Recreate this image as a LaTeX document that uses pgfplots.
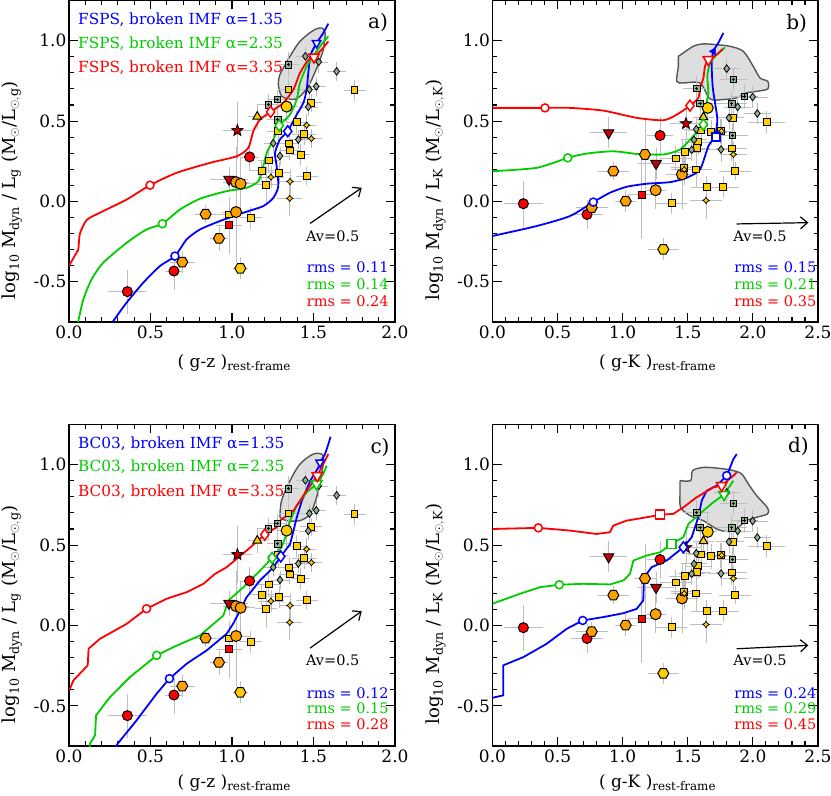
\documentclass[border=0pt]{standalone}
\usepackage{fontspec}
\setmainfont{DejaVu Serif}
\usepackage{pgfplots}
\pgfplotsset{compat=1.18}
\usepackage{pgfplotstable}
\usetikzlibrary{arrows.meta}

\definecolor{ebgray}{RGB}{190,190,190}
\definecolor{myorange}{RGB}{255,160,0}
\definecolor{mygold}{RGB}{255,205,0}
\definecolor{mygreen}{RGB}{0,205,0}
\definecolor{graygreen}{RGB}{143,175,143}
\definecolor{regfill}{RGB}{222,222,222}
\definecolor{regedge}{RGB}{85,85,85}
\definecolor{darkred}{RGB}{200,0,0}

\newcommand{\tickfont}{\fontsize{17}{20}\selectfont}
\newcommand{\labfont}{\fontsize{17}{20}\selectfont}
\newcommand{\ylabfont}{\fontsize{18}{21}\selectfont}
\newcommand{\legfont}{\fontsize{15.3}{18}\selectfont}
\newcommand{\rmsfont}{\fontsize{14.5}{17}\selectfont}
\newcommand{\avfont}{\fontsize{14.5}{17}\selectfont}
\newcommand{\panfont}{\fontsize{20}{24}\selectfont}

\pgfdeclareplotmark{hexa}{%
  \pgfpathmoveto{\pgfpointpolar{0}{\pgfplotmarksize}}%
  \pgfpathlineto{\pgfpointpolar{60}{\pgfplotmarksize}}%
  \pgfpathlineto{\pgfpointpolar{120}{\pgfplotmarksize}}%
  \pgfpathlineto{\pgfpointpolar{180}{\pgfplotmarksize}}%
  \pgfpathlineto{\pgfpointpolar{240}{\pgfplotmarksize}}%
  \pgfpathlineto{\pgfpointpolar{300}{\pgfplotmarksize}}%
  \pgfpathclose\pgfusepathqfillstroke}
\pgfdeclareplotmark{tridown}{%
  \pgfpathmoveto{\pgfpointpolar{-90}{1.2\pgfplotmarksize}}%
  \pgfpathlineto{\pgfpointpolar{30}{1.2\pgfplotmarksize}}%
  \pgfpathlineto{\pgfpointpolar{150}{1.2\pgfplotmarksize}}%
  \pgfpathclose\pgfusepathqfillstroke}
\pgfdeclareplotmark{fstar}{%
  \pgfpathmoveto{\pgfpointpolar{90}{\pgfplotmarksize}}%
  \pgfpathlineto{\pgfpointpolar{126}{0.42\pgfplotmarksize}}%
  \pgfpathlineto{\pgfpointpolar{162}{\pgfplotmarksize}}%
  \pgfpathlineto{\pgfpointpolar{198}{0.42\pgfplotmarksize}}%
  \pgfpathlineto{\pgfpointpolar{234}{\pgfplotmarksize}}%
  \pgfpathlineto{\pgfpointpolar{270}{0.42\pgfplotmarksize}}%
  \pgfpathlineto{\pgfpointpolar{306}{\pgfplotmarksize}}%
  \pgfpathlineto{\pgfpointpolar{342}{0.42\pgfplotmarksize}}%
  \pgfpathlineto{\pgfpointpolar{18}{\pgfplotmarksize}}%
  \pgfpathlineto{\pgfpointpolar{54}{0.42\pgfplotmarksize}}%
  \pgfpathclose\pgfusepathqfillstroke}
\pgfdeclareplotmark{smstar}{%
  \pgfpathmoveto{\pgfpointpolar{90}{\pgfplotmarksize}}%
  \pgfpathlineto{\pgfpointpolar{135}{0.55\pgfplotmarksize}}%
  \pgfpathlineto{\pgfpointpolar{180}{\pgfplotmarksize}}%
  \pgfpathlineto{\pgfpointpolar{225}{0.55\pgfplotmarksize}}%
  \pgfpathlineto{\pgfpointpolar{270}{\pgfplotmarksize}}%
  \pgfpathlineto{\pgfpointpolar{315}{0.55\pgfplotmarksize}}%
  \pgfpathlineto{\pgfpointpolar{0}{\pgfplotmarksize}}%
  \pgfpathlineto{\pgfpointpolar{45}{0.55\pgfplotmarksize}}%
  \pgfpathclose\pgfusepathqfillstroke}
\pgfdeclareplotmark{sqplus}{%
  \pgfpathrectangle{\pgfpoint{-\pgfplotmarksize}{-\pgfplotmarksize}}{\pgfpoint{2\pgfplotmarksize}{2\pgfplotmarksize}}%
  \pgfusepathqfillstroke
  \pgfpathmoveto{\pgfpoint{-0.55\pgfplotmarksize}{0pt}}\pgfpathlineto{\pgfpoint{0.55\pgfplotmarksize}{0pt}}%
  \pgfpathmoveto{\pgfpoint{0pt}{-0.55\pgfplotmarksize}}\pgfpathlineto{\pgfpoint{0pt}{0.55\pgfplotmarksize}}%
  \pgfusepathqstroke}

% g-z data (panels a, c)
\pgfplotstableread{
x y ex ey c
0.358 -0.561 0.10 0.12 rc
0.644 -0.433 0.04 0.10 rc
1.108 0.277 0.04 0.07 rc
0.982 0.137 0.10 0.06 rt
0.982 -0.149 0.06 0.16 rs
1.033 0.441 0.07 0.16 rst
0.695 -0.377 0.06 0.05 oh
0.838 -0.079 0.05 0.04 oh
0.920 -0.230 0.04 0.06 oh
1.051 -0.416 0.03 0.05 yh
0.982 -0.081 0.05 0.06 ys
1.025 -0.066 0.07 0.30 oc
1.025 0.120 0.06 0.20 oc
1.053 0.110 0.07 0.15 oc
1.335 0.590 0.05 0.08 yc
1.155 0.528 0.04 0.06 yt
1.752 0.691 0.05 0.05 ys
1.487 0.613 0.05 0.04 ys
1.444 0.420 0.06 0.05 ys
1.350 0.360 0.04 0.05 ys
1.354 0.317 0.05 0.04 ys
1.421 0.290 0.04 0.05 ys
1.458 0.157 0.05 0.04 ys
1.284 0.437 0.05 0.06 ys
1.182 0.190 0.06 0.05 ys
1.211 0.104 0.05 0.10 ys
1.288 0.178 0.05 0.05 ys
1.115 -0.101 0.05 0.05 ys
1.225 0.255 0.05 0.06 ys
1.347 0.696 0.04 0.05 ys
1.397 0.493 0.05 0.05 ys
1.354 0.019 0.06 0.09 yst
1.356 0.124 0.05 0.06 yst
1.458 0.474 0.04 0.05 yst
1.487 0.391 0.05 0.04 yst
1.239 0.151 0.06 0.05 yst
1.346 0.851 0.05 0.06 gs
1.223 0.602 0.05 0.05 gs
1.280 0.509 0.05 0.06 gs
1.278 0.634 0.04 0.04 gs
1.642 0.809 0.04 0.04 gd
1.450 0.903 0.04 0.04 gd
1.532 0.868 0.04 0.05 gd
1.517 0.716 0.04 0.04 gd
1.475 0.696 0.04 0.04 gd
1.407 0.385 0.04 0.04 gd
1.253 0.362 0.04 0.04 gd
1.294 0.283 0.04 0.04 gd
1.468 0.588 0.04 0.04 gd
}\gzdata

% g-K data (panels b, d)
\pgfplotstableread{
x y ex ey c
0.237 -0.014 0.13 0.125 rc
0.726 -0.081 0.10 0.07 rc
1.287 0.410 0.08 0.10 rc
0.892 0.427 0.12 0.08 rt
1.256 0.236 0.12 0.08 rt
1.486 0.484 0.10 0.08 rst
1.146 0.043 0.08 0.26 rs
0.928 0.188 0.10 0.04 oh
1.023 0.002 0.06 0.05 oh
0.762 -0.039 0.10 0.04 oh
1.171 0.292 0.06 0.20 oh
1.312 -0.298 0.10 0.05 yh
1.253 0.070 0.06 0.10 oc
1.455 0.168 0.10 0.20 oc
1.653 0.582 0.05 0.10 yc
1.620 0.524 0.06 0.06 yt
2.106 0.493 0.12 0.05 ys
1.850 0.520 0.06 0.06 ys
1.837 0.329 0.10 0.06 ys
1.863 0.188 0.10 0.04 ys
1.773 0.089 0.10 0.05 ys
1.645 0.089 0.10 0.05 ys
1.376 -0.012 0.10 0.05 ys
1.407 0.267 0.10 0.06 ys
1.479 0.306 0.10 0.06 ys
1.581 0.368 0.08 0.06 ys
1.568 0.333 0.08 0.06 ys
1.601 0.441 0.08 0.06 ys
1.678 0.430 0.10 0.06 ys
1.753 0.436 0.08 0.06 ys
1.563 0.199 0.10 0.10 ys
1.470 0.209 0.08 0.06 ys
1.640 0.006 0.10 0.10 yst
1.850 0.292 0.08 0.06 yst
1.760 0.437 0.08 0.06 yst
1.473 0.199 0.08 0.08 yst
1.850 0.758 0.08 0.05 gs
1.837 0.607 0.10 0.06 gs
1.934 0.654 0.08 0.06 gs
1.842 0.410 0.10 0.06 gs
1.594 0.609 0.08 0.06 gs
1.568 0.703 0.08 0.06 gs
1.799 0.826 0.08 0.05 gd
1.998 0.650 0.10 0.05 gd
2.034 0.547 0.08 0.05 gd
1.883 0.588 0.08 0.05 gd
1.755 0.323 0.08 0.06 gd
1.816 0.520 0.08 0.05 gd
1.565 0.449 0.08 0.05 gd
1.548 0.383 0.08 0.05 gd
1.530 0.321 0.08 0.05 gd
}\gkdata

\pgfplotsset{
  panel/.style={
    scale only axis, anchor=south west,
    xmin=0, ymin=-0.75, ymax=1.25,
    ytick={-0.5,0,0.5,1}, yticklabels={-0.5,0.0,0.5,1.0},
    minor x tick num=4, minor y tick num=4,
    tick align=inside, major tick length=9pt, minor tick length=4.5pt,
    every tick/.style={black, line width=1.1pt},
    axis line style={line width=1.6pt},
    ticklabel style={font=\tickfont},
    yticklabel style={xshift=1pt},
    every axis y label/.style={at={(axis description cs:-0.175,0.41)}, rotate=90, anchor=center, font=\ylabfont},
  },
  xlabtop/.style={every axis x label/.style={at={(axis description cs:0.507,-0.128)}, anchor=center, font=\labfont}},
  xlabbot/.style={every axis x label/.style={at={(axis description cs:0.507,-0.115)}, anchor=center, font=\labfont}},
  gzpanel/.style={panel, width=326pt, height=321.5pt, xmax=2,
    xtick={0,0.5,1,1.5,2}, xticklabels={0.0,0.5,1.0,1.5,2.0},
    xlabel={( g-z )\textsubscript{rest-frame}},
    ylabel={log\textsubscript{10} M\textsubscript{dyn} / L\textsubscript{g} (M$_\odot$/L$_{\odot,\mathrm{g}}$)}},
  gkpanel/.style={panel, width=325.5pt, height=321.5pt, xmax=2.5,
    xtick={0,0.5,1,1.5,2,2.5}, xticklabels={0.0,0.5,1.0,1.5,2.0,2.5},
    xlabel={( g-K )\textsubscript{rest-frame}},
    ylabel={log\textsubscript{10} M\textsubscript{dyn} / L\textsubscript{K} (M$_\odot$/L$_{\odot,\mathrm{K}}$)}},
  pts/.style={scatter, only marks, scatter src=explicit symbolic,
    scatter/classes={
      rc={mark=*, mark size=5pt, fill=red, draw=black, line width=1pt},
      rt={mark=tridown, mark size=5pt, fill=darkred, draw=black, line width=1pt},
      rs={mark=square*, mark size=3.5pt, fill=red, draw=black, line width=1pt},
      rst={mark=fstar, mark size=6pt, fill=darkred, draw=black, line width=0.8pt},
      oh={mark=hexa, mark size=5.5pt, fill=myorange, draw=black, line width=1pt},
      yh={mark=hexa, mark size=5.5pt, fill=mygold, draw=black, line width=1pt},
      oc={mark=*, mark size=5.5pt, fill=myorange, draw=black, line width=1pt},
      yc={mark=*, mark size=5.5pt, fill=mygold, draw=black, line width=1pt},
      yt={mark=triangle*, mark size=5pt, fill=mygold, draw=black, line width=1pt},
      ys={mark=square*, mark size=3.4pt, fill=mygold, draw=black, line width=1pt},
      yst={mark=smstar, mark size=3.3pt, fill=mygold, draw=black, line width=0.7pt},
      gs={mark=sqplus, mark size=3.3pt, fill=graygreen, draw=black, line width=0.8pt},
      gd={mark=diamond*, mark size=3.8pt, fill=graygreen, draw=black, line width=0.8pt}},
    error bars/.cd, x dir=both, x explicit, y dir=both, y explicit,
    error bar style={ebgray, line width=0.8pt},
    error mark options={ebgray, line width=0.8pt, mark size=2.8pt}},
  crv/.style={line width=1.8pt, no marks, line join=round},
  om/.style={only marks, mark options={fill=white, line width=1.5pt}},
  region/.style={fill=regfill, draw=regedge, line width=1.4pt, no marks, smooth, tension=0.5},
}

\begin{document}
\begin{tikzpicture}
\useasboundingbox (0,0) rectangle (831pt,796pt);

%%%%%%%%%%%%%%%% panel a
\begin{axis}[gzpanel, xlabtop, at={(69pt,474pt)}]
\addplot[region] coordinates {(1.284,0.727)(1.294,0.789)(1.356,0.903)(1.417,0.996)(1.499,1.064)(1.550,1.079)(1.571,1.048)(1.560,0.944)(1.520,0.830)(1.468,0.716)(1.417,0.654)(1.376,0.634)(1.305,0.654)(1.284,0.727)};
\addplot[pts] table[x=x, y=y, x error=ex, y error=ey, meta=c] {\gzdata};
\addplot[crv, blue, smooth, tension=0.4] coordinates {(0.22,-0.82)(0.272,-0.743)(0.354,-0.629)(0.456,-0.505)(0.558,-0.402)(0.650,-0.340)(0.722,-0.236)(0.804,-0.174)(0.926,-0.122)(1.07,-0.070)(1.192,-0.029)(1.254,0.023)(1.284,0.095)(1.274,0.219)(1.264,0.302)(1.294,0.385)(1.342,0.437)(1.397,0.540)(1.438,0.613)(1.458,0.696)(1.468,0.799)(1.483,0.913)(1.519,0.985)(1.560,1.048)(1.591,1.106)};
\addplot[crv, mygreen, smooth, tension=0.4] coordinates {(0.03,-0.85)(0.057,-0.743)(0.088,-0.609)(0.139,-0.484)(0.210,-0.381)(0.354,-0.257)(0.476,-0.174)(0.573,-0.139)(0.681,-0.050)(0.804,0.017)(0.967,0.064)(1.090,0.085)(1.162,0.126)(1.192,0.219)(1.213,0.302)(1.254,0.385)(1.290,0.472)(1.356,0.540)(1.397,0.634)(1.417,0.737)(1.458,0.840)(1.499,0.903)(1.540,0.965)(1.591,1.027)};
\addplot[crv, red, smooth, tension=0.4] coordinates {(0,-0.40)(0.04,-0.33)(0.057,-0.30)(0.067,-0.20)(0.109,-0.115)(0.190,-0.070)(0.354,0.012)(0.497,0.101)(0.660,0.178)(0.865,0.240)(1.029,0.281)(1.100,0.333)(1.131,0.437)(1.172,0.509)(1.237,0.557)(1.315,0.613)(1.377,0.696)(1.417,0.799)(1.469,0.882)(1.503,0.898)(1.550,0.944)(1.591,0.996)};
\addplot[om, blue, mark=*, mark size=4pt] coordinates {(0.650,-0.340)};
\addplot[om, blue, mark=diamond*, mark size=5.5pt] coordinates {(1.342,0.437)};
\addplot[om, blue, mark=tridown, mark size=4pt] coordinates {(1.519,0.985)};
\addplot[om, mygreen, mark=*, mark size=4pt] coordinates {(0.573,-0.139)};
\addplot[om, mygreen, mark=diamond*, mark size=5.5pt] coordinates {(1.290,0.472)};
\addplot[om, red, mark=*, mark size=4pt] coordinates {(0.497,0.101)};
\addplot[om, red, mark=diamond*, mark size=5.5pt] coordinates {(1.237,0.557)};
\addplot[om, red, mark=tridown, mark size=5pt] coordinates {(1.503,0.898)};
\node[anchor=west, inner sep=0, text=blue, font=\legfont] at (axis cs:0.055,1.130) {FSPS, broken IMF α=1.35};
\node[anchor=west, inner sep=0, text=mygreen, font=\legfont] at (axis cs:0.055,0.981) {FSPS, broken IMF α=2.35};
\node[anchor=west, inner sep=0, text=red, font=\legfont] at (axis cs:0.055,0.832) {FSPS, broken IMF α=3.35};
\node[font=\panfont] at (axis cs:1.896,1.112) {a)};
\draw[line width=1.2pt, -{Straight Barb[length=7pt,width=12pt]}] (axis cs:1.479,-0.137) -- (axis cs:1.796,0.085);
\node[font=\avfont] at (axis cs:1.618,-0.219) {Av=0.5};
\node[anchor=west, inner sep=0, text=blue, font=\rmsfont] at (axis cs:1.458,-0.412) {rms = 0.11};
\node[anchor=west, inner sep=0, text=mygreen, font=\rmsfont] at (axis cs:1.458,-0.516) {rms = 0.14};
\node[anchor=west, inner sep=0, text=red, font=\rmsfont] at (axis cs:1.458,-0.619) {rms = 0.24};
\end{axis}

%%%%%%%%%%%%%%%% panel b
\begin{axis}[gkpanel, xlabtop, at={(492.5pt,474pt)}]
\addplot[region] coordinates {(1.427,0.902)(1.542,0.965)(1.619,0.980)(1.722,0.975)(1.824,0.965)(1.926,0.934)(2.003,0.840)(2.055,0.768)(2.114,0.747)(2.114,0.700)(2.029,0.685)(1.952,0.675)(1.876,0.644)(1.773,0.634)(1.670,0.638)(1.594,0.737)(1.465,0.737)(1.415,0.747)(1.427,0.840)(1.427,0.902)};
\addplot[pts] table[x=x, y=y, x error=ex, y error=ey, meta=c] {\gkdata};
\addplot[crv, blue, smooth, tension=0.4] coordinates {(0,-0.215)(0.339,-0.153)(0.595,-0.091)(0.774,-0.004)(0.902,0.054)(1.030,0.091)(1.184,0.110)(1.363,0.120)(1.491,0.147)(1.594,0.199)(1.658,0.344)(1.709,0.406)(1.727,0.509)(1.709,0.613)(1.691,0.716)(1.683,0.861)(1.696,0.934)(1.734,0.986)(1.773,1.048)};
\addplot[crv, mygreen, smooth, tension=0.4] coordinates {(0,0.188)(0.339,0.209)(0.578,0.271)(0.724,0.298)(0.929,0.312)(1.107,0.296)(1.312,0.292)(1.440,0.323)(1.542,0.406)(1.620,0.478)(1.632,0.571)(1.658,0.675)(1.650,0.778)(1.671,0.861)(1.722,0.913)(1.786,0.958)};
\addplot[crv, red, smooth, tension=0.4] coordinates {(0,0.582)(0.403,0.582)(0.595,0.582)(0.851,0.565)(1.107,0.520)(1.312,0.505)(1.415,0.540)(1.517,0.596)(1.581,0.644)(1.594,0.706)(1.620,0.768)(1.632,0.841)(1.658,0.882)(1.722,0.913)(1.768,0.948)};
\addplot[om, blue, mark=*, mark size=4pt] coordinates {(0.774,-0.004)};
\addplot[om, blue, mark=square*, mark size=4pt] coordinates {(1.716,0.402)};
\addplot[om, blue, mark=triangle*, mark size=4pt, mark options={rotate=90}] coordinates {(1.696,0.934)};
\addplot[om, mygreen, mark=*, mark size=4pt] coordinates {(0.578,0.271)};
\addplot[om, mygreen, mark=diamond*, mark size=5.5pt] coordinates {(1.620,0.478)};
\addplot[om, red, mark=*, mark size=4pt] coordinates {(0.403,0.582)};
\addplot[om, red, mark=diamond*, mark size=5.5pt] coordinates {(1.517,0.596)};
\addplot[om, red, mark=tridown, mark size=5pt] coordinates {(1.658,0.882)};
\node[font=\panfont] at (axis cs:2.336,1.110) {b)};
\draw[line width=1.2pt, -{Straight Barb[length=7pt,width=12pt]}] (axis cs:1.875,-0.140) -- (axis cs:2.426,-0.132);
\node[font=\avfont] at (axis cs:2.055,-0.219) {Av=0.5};
\node[anchor=west, inner sep=0, text=blue, font=\rmsfont] at (axis cs:1.857,-0.412) {rms = 0.15};
\node[anchor=west, inner sep=0, text=mygreen, font=\rmsfont] at (axis cs:1.857,-0.516) {rms = 0.21};
\node[anchor=west, inner sep=0, text=red, font=\rmsfont] at (axis cs:1.857,-0.619) {rms = 0.35};
\end{axis}

%%%%%%%%%%%%%%%% panel c
\begin{axis}[gzpanel, xlabbot, at={(69pt,50pt)}]
\addplot[region] coordinates {(1.294,0.673)(1.304,0.776)(1.356,0.900)(1.417,1.004)(1.499,1.066)(1.560,1.056)(1.550,0.942)(1.519,0.797)(1.479,0.693)(1.417,0.652)(1.335,0.652)(1.294,0.673)};
\addplot[pts] table[x=x, y=y, x error=ex, y error=ey, meta=c] {\gzdata};
\addplot[crv, blue] coordinates {(0.26,-0.80)(0.302,-0.731)(0.415,-0.590)(0.538,-0.424)(0.616,-0.331)(0.722,-0.238)(0.845,-0.155)(0.967,-0.052)(1.008,0.012)(1.049,0.093)(1.090,0.176)(1.172,0.280)(1.254,0.362)(1.299,0.429)(1.356,0.505)(1.377,0.588)(1.397,0.671)(1.428,0.774)(1.479,0.898)(1.530,0.983)(1.540,1.014)(1.571,1.066)(1.591,1.128)(1.605,1.174)};
\addplot[crv, mygreen] coordinates {(0.12,-0.80)(0.129,-0.735)(0.160,-0.683)(0.166,-0.559)(0.252,-0.445)(0.374,-0.321)(0.476,-0.238)(0.538,-0.186)(0.640,-0.135)(0.804,-0.062)(0.947,0.062)(0.978,0.155)(1.07,0.238)(1.192,0.362)(1.246,0.420)(1.304,0.486)(1.335,0.569)(1.356,0.652)(1.397,0.745)(1.458,0.828)(1.519,0.880)(1.560,0.942)(1.581,0.994)};
\addplot[crv, red] coordinates {(0,-0.40)(0.006,-0.393)(0.027,-0.342)(0.115,-0.248)(0.12,-0.145)(0.190,-0.083)(0.354,0.010)(0.476,0.104)(0.599,0.166)(0.722,0.207)(0.825,0.259)(0.896,0.321)(0.967,0.362)(1.090,0.466)(1.201,0.565)(1.274,0.611)(1.294,0.652)(1.377,0.714)(1.458,0.838)(1.523,0.932)(1.560,1.004)(1.591,1.066)};
\addplot[om, blue, mark=*, mark size=4pt] coordinates {(0.616,-0.331)};
\addplot[om, blue, mark=diamond*, mark size=5.5pt] coordinates {(1.299,0.429)};
\addplot[om, blue, mark=tridown, mark size=4pt] coordinates {(1.540,1.014)};
\addplot[om, mygreen, mark=*, mark size=4pt] coordinates {(0.538,-0.186)};
\addplot[om, mygreen, mark=diamond*, mark size=5.5pt] coordinates {(1.246,0.420)};
\addplot[om, mygreen, mark=tridown, mark size=5pt] coordinates {(1.519,0.880)};
\addplot[om, red, mark=*, mark size=4pt] coordinates {(0.476,0.104)};
\addplot[om, red, mark=diamond*, mark size=5.5pt] coordinates {(1.201,0.565)};
\addplot[om, red, mark=tridown, mark size=5pt] coordinates {(1.523,0.932)};
\node[anchor=west, inner sep=0, text=blue, font=\legfont] at (axis cs:0.055,1.129) {BC03, broken IMF α=1.35};
\node[anchor=west, inner sep=0, text=mygreen, font=\legfont] at (axis cs:0.055,0.988) {BC03, broken IMF α=2.35};
\node[anchor=west, inner sep=0, text=red, font=\legfont] at (axis cs:0.055,0.834) {BC03, broken IMF α=3.35};
\node[font=\panfont] at (axis cs:1.908,1.107) {c)};
\draw[line width=1.2pt, -{Straight Barb[length=7pt,width=12pt]}] (axis cs:1.479,-0.141) -- (axis cs:1.796,0.089);
\node[font=\avfont] at (axis cs:1.618,-0.217) {Av=0.5};
\node[anchor=west, inner sep=0, text=blue, font=\rmsfont] at (axis cs:1.458,-0.420) {rms = 0.12};
\node[anchor=west, inner sep=0, text=mygreen, font=\rmsfont] at (axis cs:1.458,-0.518) {rms = 0.15};
\node[anchor=west, inner sep=0, text=red, font=\rmsfont] at (axis cs:1.458,-0.615) {rms = 0.28};
\end{axis}

%%%%%%%%%%%%%%%% panel d
\begin{axis}[gkpanel, xlabbot, at={(492.5pt,50pt)}]
\addplot[region] coordinates {(1.440,0.901)(1.522,0.901)(1.537,0.963)(1.619,0.983)(1.722,0.979)(1.837,0.966)(1.914,0.942)(1.965,0.880)(2.029,0.807)(2.113,0.731)(2.113,0.694)(2.029,0.673)(1.952,0.652)(1.888,0.611)(1.811,0.584)(1.722,0.600)(1.619,0.652)(1.517,0.683)(1.445,0.735)(1.440,0.818)(1.440,0.901)};
\addplot[pts] table[x=x, y=y, x error=ex, y error=ey, meta=c] {\gkdata};
\addplot[crv, blue] coordinates {(0,-0.450)(0.083,-0.435)(0.083,-0.248)(0.237,-0.197)(0.416,-0.114)(0.570,-0.021)(0.693,0.031)(0.851,0.052)(1.005,0.076)(1.107,0.103)(1.158,0.155)(1.164,0.300)(1.222,0.362)(1.338,0.404)(1.402,0.445)(1.466,0.486)(1.530,0.549)(1.581,0.673)(1.607,0.776)(1.645,0.838)(1.722,0.870)(1.799,0.932)(1.825,0.983)(1.850,1.035)(1.876,1.066)};
\addplot[crv, mygreen] coordinates {(0,0.135)(0.211,0.197)(0.365,0.238)(0.513,0.253)(0.697,0.259)(0.902,0.255)(1.005,0.280)(1.056,0.321)(1.082,0.404)(1.184,0.435)(1.287,0.455)(1.376,0.507)(1.466,0.549)(1.505,0.632)(1.620,0.714)(1.696,0.766)(1.778,0.814)(1.850,0.900)};
\addplot[crv, red] coordinates {(0,0.600)(0.352,0.607)(0.595,0.590)(0.8,0.569)(0.902,0.580)(0.928,0.621)(1.030,0.652)(1.184,0.673)(1.287,0.689)(1.389,0.694)(1.466,0.735)(1.568,0.797)(1.696,0.859)(1.760,0.870)(1.850,0.932)(1.876,0.952)};
\addplot[om, blue, mark=*, mark size=4pt] coordinates {(0.693,0.031)};
\addplot[om, blue, mark=diamond*, mark size=5.5pt] coordinates {(1.466,0.486)};
\addplot[om, blue, mark=*, mark size=4pt] coordinates {(1.799,0.932)};
\addplot[om, mygreen, mark=*, mark size=4pt] coordinates {(0.513,0.253)};
\addplot[om, mygreen, mark=square*, mark size=4.5pt] coordinates {(1.376,0.507)};
\addplot[om, mygreen, mark=tridown, mark size=5pt] coordinates {(1.778,0.814)};
\addplot[om, red, mark=*, mark size=4pt] coordinates {(0.352,0.607)};
\addplot[om, red, mark=square*, mark size=4.5pt] coordinates {(1.287,0.689)};
\addplot[om, red, mark=tridown, mark size=5pt] coordinates {(1.760,0.870)};
\node[font=\panfont] at (axis cs:2.349,1.112) {d)};
\draw[line width=1.2pt, -{Straight Barb[length=7pt,width=12pt]}] (axis cs:1.875,-0.145) -- (axis cs:2.426,-0.124);
\node[font=\avfont] at (axis cs:2.055,-0.217) {Av=0.5};
\node[anchor=west, inner sep=0, text=blue, font=\rmsfont] at (axis cs:1.857,-0.420) {rms = 0.24};
\node[anchor=west, inner sep=0, text=mygreen, font=\rmsfont] at (axis cs:1.857,-0.518) {rms = 0.29};
\node[anchor=west, inner sep=0, text=red, font=\rmsfont] at (axis cs:1.857,-0.615) {rms = 0.45};
\end{axis}
\end{tikzpicture}
\end{document}
